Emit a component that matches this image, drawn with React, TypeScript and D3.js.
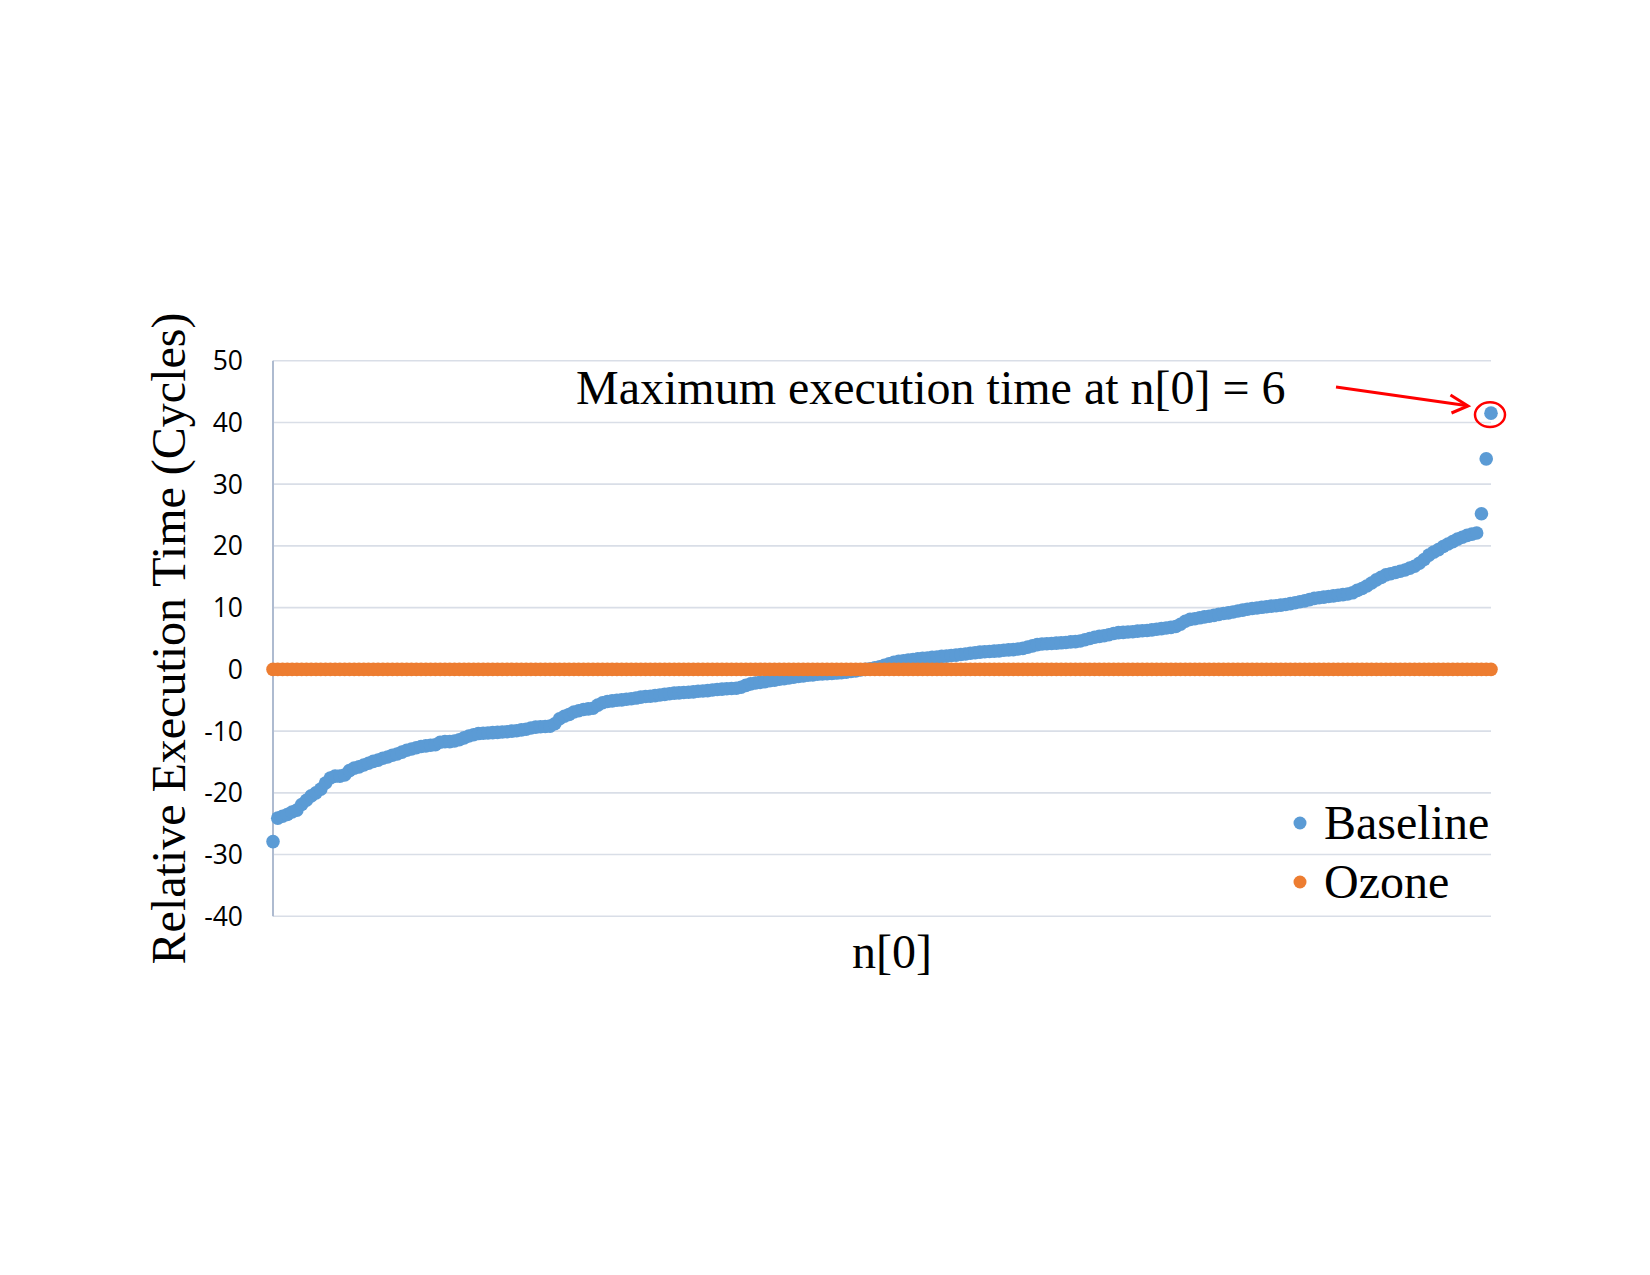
import * as d3 from 'd3';

// Baseline series: relative execution time, sorted ascending (256 values of n[0])
const baseline = [
  -27.9, -24.1, -23.8, -23.5, -23.1, -22.8, -21.9, -21.2, -20.5, -20.0, -19.4, -18.4, -17.6, -17.3, -17.3, -17.1,
  -16.4, -16.0, -15.8, -15.5, -15.2, -14.9, -14.7, -14.4, -14.2, -13.9, -13.7, -13.4, -13.1, -12.9, -12.7, -12.5,
  -12.4, -12.3, -12.2, -11.8, -11.7, -11.7, -11.6, -11.4, -11.1, -10.8, -10.6, -10.4, -10.35, -10.3, -10.25, -10.2,
  -10.15, -10.1, -10.0, -9.95, -9.8, -9.7, -9.5, -9.35, -9.3, -9.25, -9.2, -8.8, -8.0, -7.6, -7.3, -6.9,
  -6.7, -6.5, -6.4, -6.3, -5.8, -5.4, -5.2, -5.1, -5.0, -4.95, -4.85, -4.75, -4.65, -4.5, -4.4, -4.35,
  -4.25, -4.15, -4.05, -3.95, -3.85, -3.8, -3.75, -3.7, -3.65, -3.55, -3.5, -3.45, -3.35, -3.25, -3.2, -3.15,
  -3.1, -3.05, -2.9, -2.6, -2.35, -2.2, -2.1, -2.0, -1.85, -1.75, -1.6, -1.5, -1.4, -1.25, -1.15, -1.05,
  -0.95, -0.9, -0.8, -0.75, -0.7, -0.65, -0.6, -0.55, -0.45, -0.35, -0.25, -0.1, 0.0, 0.1, 0.25, 0.4,
  0.65, 0.9, 1.15, 1.3, 1.4, 1.5, 1.6, 1.7, 1.8, 1.85, 1.95, 2.0, 2.1, 2.15, 2.25, 2.3,
  2.4, 2.5, 2.6, 2.7, 2.8, 2.85, 2.9, 2.95, 3.0, 3.1, 3.15, 3.2, 3.3, 3.4, 3.6, 3.8,
  4.0, 4.1, 4.15, 4.2, 4.25, 4.3, 4.35, 4.45, 4.5, 4.6, 4.8, 5.0, 5.2, 5.35, 5.45, 5.6,
  5.8, 5.95, 6.0, 6.05, 6.1, 6.2, 6.25, 6.3, 6.4, 6.5, 6.6, 6.7, 6.8, 6.95, 7.3, 7.8,
  8.1, 8.2, 8.35, 8.5, 8.6, 8.75, 8.9, 9.05, 9.15, 9.3, 9.45, 9.6, 9.75, 9.85, 9.95, 10.05,
  10.15, 10.25, 10.3, 10.4, 10.5, 10.65, 10.8, 10.95, 11.1, 11.3, 11.5, 11.6, 11.7, 11.8, 11.9, 12.0,
  12.1, 12.2, 12.4, 12.8, 13.1, 13.5, 14.0, 14.5, 14.9, 15.3, 15.5, 15.7, 15.9, 16.1, 16.4, 16.7,
  17.2, 17.8, 18.5, 19.0, 19.4, 19.9, 20.3, 20.7, 21.1, 21.4, 21.7, 21.9, 22.1, 25.2, 34.1, 41.5,
];

// Ozone series: constant execution time
const ozone = [
  0, 0, 0, 0, 0, 0, 0, 0, 0, 0, 0, 0, 0, 0, 0, 0, 0, 0, 0, 0, 0, 0, 0, 0, 0, 0, 0, 0, 0, 0, 0, 0,
  0, 0, 0, 0, 0, 0, 0, 0, 0, 0, 0, 0, 0, 0, 0, 0, 0, 0, 0, 0, 0, 0, 0, 0, 0, 0, 0, 0, 0, 0, 0, 0,
  0, 0, 0, 0, 0, 0, 0, 0, 0, 0, 0, 0, 0, 0, 0, 0, 0, 0, 0, 0, 0, 0, 0, 0, 0, 0, 0, 0, 0, 0, 0, 0,
  0, 0, 0, 0, 0, 0, 0, 0, 0, 0, 0, 0, 0, 0, 0, 0, 0, 0, 0, 0, 0, 0, 0, 0, 0, 0, 0, 0, 0, 0, 0, 0,
  0, 0, 0, 0, 0, 0, 0, 0, 0, 0, 0, 0, 0, 0, 0, 0, 0, 0, 0, 0, 0, 0, 0, 0, 0, 0, 0, 0, 0, 0, 0, 0,
  0, 0, 0, 0, 0, 0, 0, 0, 0, 0, 0, 0, 0, 0, 0, 0, 0, 0, 0, 0, 0, 0, 0, 0, 0, 0, 0, 0, 0, 0, 0, 0,
  0, 0, 0, 0, 0, 0, 0, 0, 0, 0, 0, 0, 0, 0, 0, 0, 0, 0, 0, 0, 0, 0, 0, 0, 0, 0, 0, 0, 0, 0, 0, 0,
  0, 0, 0, 0, 0, 0, 0, 0, 0, 0, 0, 0, 0, 0, 0, 0, 0, 0, 0, 0, 0, 0, 0, 0, 0, 0, 0, 0, 0, 0, 0, 0,
];

const yTicks = [-40, -30, -20, -10, 0, 10, 20, 30, 40, 50];

const seriesNames = ['Baseline', 'Ozone'];
const colors = ['#5B9BD5', '#ED7D31'];

const serif = '"Liberation Serif", "Times New Roman", serif';
const sans = '"Open Sans", "Noto Sans", sans-serif';

export default function App() {
  const width = 1650;
  const height = 1275;
  const plot = { left: 273, right: 1491, top: 360.7, bottom: 916.3 };

  const xScale = d3.scaleLinear()
    .domain([0, baseline.length - 1])
    .range([plot.left, plot.right]);

  const yScale = d3.scaleLinear()
    .domain([-40, 50])
    .range([plot.bottom, plot.top]);

  const r = 6.8;

  // annotated max point
  const maxIdx = baseline.length - 1;
  const mx = xScale(maxIdx);
  const my = yScale(baseline[maxIdx]);

  return (
    <svg width={width} height={height} style={{ position: 'absolute', left: 0, top: 0, background: '#fff' }}>
      {/* Gridlines */}
      {yTicks.map((t, i) => (
        <line key={i} x1={plot.left} x2={plot.right} y1={yScale(t)} y2={yScale(t)} stroke="#D9DEE7" strokeWidth={1.6} />
      ))}
      {/* Y axis line */}
      <line x1={plot.left} x2={plot.left} y1={plot.top} y2={plot.bottom} stroke="#AEBBD0" strokeWidth={2} />

      {/* Tick labels */}
      {yTicks.map((t, i) => (
        <text key={i} x={243} y={yScale(t) + 9.5} textAnchor="end" fontSize={26.5} fontFamily={sans} fill="#000">
          {t}
        </text>
      ))}

      {/* Baseline markers */}
      {baseline.map((v, i) => (
        <circle key={i} cx={xScale(i)} cy={yScale(v)} r={r} fill={colors[0]} />
      ))}
      {/* Ozone markers */}
      {ozone.map((v, i) => (
        <circle key={i} cx={xScale(i)} cy={yScale(v)} r={r} fill={colors[1]} />
      ))}

      {/* Annotation */}
      <text x={576} y={404} fontSize={48} fontFamily={serif} fill="#000">
        Maximum execution time at n[0] = 6
      </text>
      <ellipse cx={mx - 1} cy={my + 1.5} rx={15} ry={12.3} fill="none" stroke="#FF0000" strokeWidth={2.5} />
      <line x1={1336} y1={387} x2={1466} y2={405.5} stroke="#FF0000" strokeWidth={3} />
      <polyline points="1450.5,395 1468,406 1451.5,413" fill="none" stroke="#FF0000" strokeWidth={3} />

      {/* Axis titles */}
      <text
        transform={`translate(185, 638.5) rotate(-90)`}
        textAnchor="middle"
        fontSize={48}
        fontFamily={serif}
        fill="#000"
      >
        Relative Execution Time (Cycles)
      </text>
      <text x={892} y={968} textAnchor="middle" fontSize={48} fontFamily={serif} fill="#000">
        n[0]
      </text>

      {/* Legend */}
      {seriesNames.map((name, i) => (
        <g key={name}>
          <circle cx={1300} cy={823 + i * 59} r={6.5} fill={colors[i]} />
          <text x={1324} y={839 + i * 59} fontSize={48} fontFamily={serif} fill="#000">
            {name}
          </text>
        </g>
      ))}
    </svg>
  );
}
